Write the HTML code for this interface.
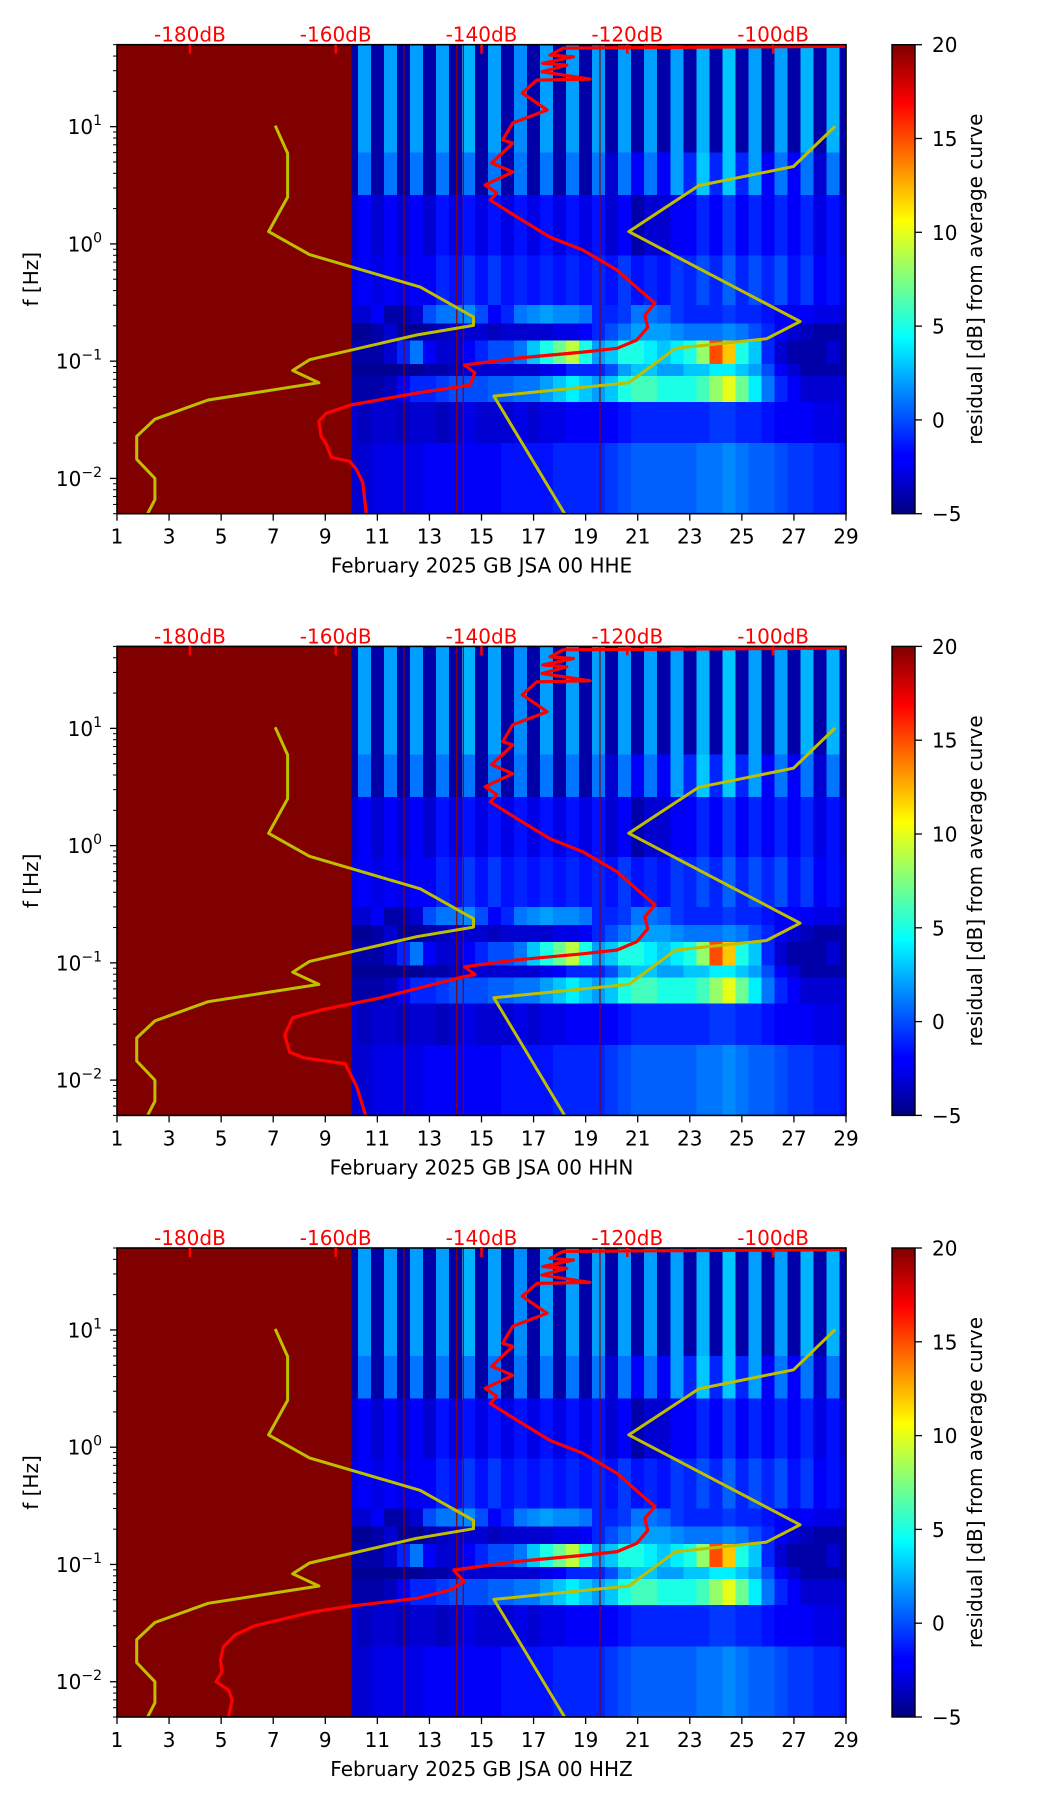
<!DOCTYPE html>
<html><head><meta charset="utf-8"><style>
html,body{margin:0;padding:0;background:#fff;}
svg{display:block;font-family:"DejaVu Sans","Liberation Sans",sans-serif;}
</style></head><body>
<svg id="fig" width="1052" height="1806" viewBox="0 0 1052 1806" xmlns="http://www.w3.org/2000/svg">
<defs>
<linearGradient id="jetgrad" x1="0" y1="1" x2="0" y2="0">
<stop offset="0" stop-color="#00007f"/><stop offset="0.11" stop-color="#0000ff"/><stop offset="0.125" stop-color="#0000ff"/>
<stop offset="0.34" stop-color="#00dbff"/><stop offset="0.375" stop-color="#00ffff"/><stop offset="0.5" stop-color="#7fff7f"/>
<stop offset="0.625" stop-color="#ffff00"/><stop offset="0.66" stop-color="#ffdb00"/><stop offset="0.875" stop-color="#ff0000"/>
<stop offset="0.89" stop-color="#f00000"/><stop offset="1" stop-color="#7f0000"/>
</linearGradient>
</defs>
</svg>
<script>
// ---- data ----
const panelTitles = ["February 2025 GB JSA 00 HHE","February 2025 GB JSA 00 HHN","February 2025 GB JSA 00 HHZ"];
const xTickDays = [1,3,5,7,9,11,13,15,17,19,21,23,25,27,29];
const dbTicks = [-180,-160,-140,-120,-100];
const cbTicks = [20,15,10,5,0,-5];
const colEdges = [10,10.25,10.75,11.25,11.75,12.25,12.75,13.25,13.75,14.25,14.75,15.25,15.75,16.25,16.75,17.25,17.75,18.25,18.75,19.25,19.75,20.25,20.75,21.25,21.75,22.25,22.75,23.25,23.75,24.25,24.75,25.25,25.75,26.25,26.75,27.25,27.75,28.25,28.75,29];
const bandEdges = [50,6,2.6,0.8,0.3,0.21,0.15,0.095,0.075,0.045,0.02,0.005];
const band0 = [-4,2,-4,2,-4,2,-4,2,-4,2.5,-4,2,-4,1.5,-4,2,-4,2,-4,2,-4,2,-4,2,-4,2,-4,2.5,-4,3,-4,2,-4,2,-4,2.5,-4,2.5,-4];
const band1 = [-4,1,-4,1,-4,1,-4,1,-4,1,-4,1,-4,1,-4,1,-4,1,-4,1,-3,1,-2,1,-2,2,-1,3,-1,3,-1,2,-2,1,-2,1,-3,1,-4];
const band2 = [-3,-2,-3,-2,-3,-2,-3,-1.5,-2.5,-1.5,-2.5,-1.5,-2.5,-1.5,-2.5,-1.5,-2.5,-1.5,-2.5,-1.5,-3,-2,-4,-3,-3,-2,-2,-1,-2,-0.5,-2,-1,-2,-1,-2,-1,-2.5,-1.5,-3];
const band3 = [-2.5,-2,-2.5,-2,-2.5,-2,-2,-1,-1.5,-0.5,-1.5,-0.5,-1.5,-1,-1.5,-1,-1.5,-1,-1.5,-1,-1.5,-0.5,-1.5,-1,-1.5,-0.5,-1,0,-1,0.5,-1,0,-1,0,-1.5,-0.5,-2,-1.5,-2.5];
const band4 = [-3,-3,-2,-4,-4,-3,0,1,1,1.5,0,-2,-1,1,1.5,2,1.5,1.5,1,-1,-1,-0.5,1,1,0.5,-0.5,-1,-1,-1,-0.5,-1,-1,-1.5,-2,-2,-2,-2.5,-2.5,-3];
const band5 = [-4.5,-4.5,-4,-3,-4.5,-4.5,-4,-3.5,-3,-3,-3,-3.5,-3,-3,-3,-3,-2.5,-2.5,-2,-1,0,1,2,2,2,1.5,1,1,1,1.5,1,0,-1,-2,-3,-3.5,-4,-4,-4];
const band6 = [-4,-4,-4,-3,-1,1,-2,-3,-3,-2,-1,0,0,1,3,5,7,9,5,2,3,5,5,4,3,4,5,8,15,12,5,3,-1,-3,-4,-4,-4,-3,-4];
const band7 = [-4.5,-4.5,-4.5,-4.5,-4.5,-4.5,-4,-4,-3.5,-3,-3,-3,-3,-3,-3,-2.5,-2,-1,-1,-1,0,2,3,3,2,2,3,3,4,4,3,2,0,-2,-3,-4,-4,-4,-4];
const band8 = [-4,-4,-4,-3.5,-2,-1,-1,-0.5,0,0,0,0.5,0.5,1,1,2,3,4,3,2,3,5,6,6,5,5,5,6,8,10,7,4,1,-1,-2,-3,-3,-3,-3];
const band9 = [-3,-3.5,-3,-3,-3.5,-3,-3,-3.5,-3,-2.5,-3,-3,-3,-2.5,-3,-2.5,-2.5,-2,-2,-2,-2,-1.5,-1,-1,-1,-1,-1,-1,-0.5,-0.5,-1,-1,-1.5,-2,-2,-2,-2.5,-2.5,-3];
const band10 = [-3,-3,-2.5,-2.5,-2.5,-2.5,-2,-2,-2,-2,-2,-2,-1.5,-1.5,-1.5,-1.5,-1,-1,-1,-1,-0.5,0,0.5,0.5,0.5,0.5,0.5,1,1,1.5,1,0.5,0.5,0,-0.5,-0.5,-1,-1,-1.5];
const noDataStart = 1, noDataEnd = 10, noDataValue = 20;
const gapLineDays = [12.02,14.05,14.3,19.55];
// red curve (dB, log10 Hz)
const redTopDb = [-90,-128.8,-130.6,-127.4,-131.6,-128.3,-131.7,-125.1,-132.4,-134.4,-131.0,-135.7,-137.1,-135.7,-138.6,-135.7,-139.5,-137.9,-138.8,-135.1,-130.6,-126.1,-121.4,-118.3,-116.2,-117.6,-117.2,-118.7,-121.4,-126.1,-135.1];
const redTopLogF = [1.685,1.67,1.61,1.596,1.54,1.525,1.468,1.406,1.397,1.287,1.142,1.031,0.886,0.86,0.69,0.613,0.502,0.434,0.374,0.229,0.058,-0.052,-0.223,-0.394,-0.505,-0.607,-0.71,-0.82,-0.89,-0.923,-0.974];
const redLowDb1 = [-142.3,-140.9,-141.6,-148.8,-158.0,-161.3,-162.3,-162.0,-161.3,-160.6,-158.1,-157.2,-156.3,-155.8];
const redLowLogF1 = [-1.034,-1.10,-1.205,-1.272,-1.375,-1.445,-1.511,-1.641,-1.707,-1.82,-1.854,-1.919,-2.033,-2.301];
const redLowDb2 = [-142.3,-140.9,-142.9,-154.0,-161.9,-165.9,-167.0,-166.3,-164.2,-158.7,-157.1,-155.9];
const redLowLogF2 = [-1.034,-1.10,-1.125,-1.301,-1.40,-1.468,-1.615,-1.763,-1.812,-1.86,-2.057,-2.301];
const redLowDb3 = [-143.8,-142.4,-144.3,-148.8,-157.8,-163.0,-171.2,-173.8,-175.4,-175.8,-175.6,-176.4,-174.7,-174.2,-174.7];
const redLowLogF3 = [-1.047,-1.147,-1.218,-1.289,-1.354,-1.403,-1.525,-1.602,-1.702,-1.815,-1.915,-2.0,-2.071,-2.156,-2.301];
// yellow model curves
const lowModelDb = [-168.3,-166.6,-166.6,-169.2,-163.6,-148.4,-141.1,-141.1,-148.9,-163.6,-165.9,-162.3,-177.5,-184.8,-187.3,-187.3,-184.8,-184.8,-185.8];
const lowModelLogF = [1.009,0.774,0.399,0.105,-0.091,-0.368,-0.623,-0.695,-0.777,-0.988,-1.08,-1.184,-1.331,-1.495,-1.641,-1.837,-2.0,-2.18,-2.301];
const highModelDb = [-91.5,-97.2,-110.2,-119.8,-96.3,-100.9,-113.4,-119.8,-138.3,-128.6];
const highModelLogF = [1.003,0.66,0.497,0.105,-0.662,-0.809,-0.891,-1.184,-1.298,-2.301];

// ---- layout ----
const NS = "http://www.w3.org/2000/svg";
const svg = document.getElementById('fig');
const X0 = 117, X1 = 846, PH = 469, CBX = 892, CBW = 23;
const panelTops = [44.7, 646.4, 1248];
const vmin = -5, vmax = 20;
const LOGTOP = Math.log10(50), LOGBOT = Math.log10(0.005);
function xDay(d){ return X0 + (d - 1) * (X1 - X0) / 28; }
function xDb(db){ return X0 + (db + 190) * (X1 - X0) / 100; }
function yLog(lf, top){ return top + (LOGTOP - lf) * PH / (LOGTOP - LOGBOT); }
function yF(f, top){ return yLog(Math.log10(f), top); }
function jet(v){
  let t = Math.max(0, Math.min(1, (v - vmin) / (vmax - vmin)));
  const c = x => Math.round(255 * Math.max(0, Math.min(1, x)));
  return `rgb(${c(1.5-Math.abs(4*t-3))},${c(1.5-Math.abs(4*t-2))},${c(1.5-Math.abs(4*t-1))})`;
}
function el(tag, attrs, parent){
  const e = document.createElementNS(NS, tag);
  for (const k in attrs) e.setAttribute(k, attrs[k]);
  (parent || svg).appendChild(e);
  return e;
}
const bands = [band0,band1,band2,band3,band4,band5,band6,band7,band8,band9,band10];

panelTops.forEach((top, p) => {
  const g = el('g', {});
  
  
  const cp = el('clipPath', {id: 'clip' + p}, g);
  el('rect', {x: X0, y: top, width: X1 - X0, height: PH}, cp);

  // heatmap
  const hm = el('g', {'shape-rendering': 'crispEdges'}, g);
  
  
  const nd = el('rect', {x: xDay(noDataStart), y: top, width: xDay(noDataEnd) - xDay(noDataStart), height: PH, fill: jet(noDataValue)}, hm);
  
  
  bands.forEach((vals, b) => {
    const y0 = yF(bandEdges[b], top), y1 = yF(bandEdges[b+1], top);
    vals.forEach((v, i) => {
      const xa = xDay(colEdges[i]), xb = xDay(colEdges[i+1]);
      const r = el('rect', {x: xa, y: y0, width: xb - xa + 0.5, height: y1 - y0 + 0.5, fill: jet(v)}, hm);
      
      
    });
  });
  gapLineDays.forEach(d => {
    const l = el('line', {x1: xDay(d), x2: xDay(d), y1: top, y2: top + PH, stroke: '#8b0000', 'stroke-width': 1.2}, g);
    
    
  });

  // curves
  const cg = el('g', {'clip-path': `url(#clip${p})`, fill: 'none', 'stroke-linejoin': 'round'}, g);
  function poly(dbs, lfs, color, w, name){
    const pts = dbs.map((d, i) => xDb(d).toFixed(1) + ',' + yLog(lfs[i], top).toFixed(1)).join(' ');
    const pl = el('polyline', {points: pts, stroke: color, 'stroke-width': w}, cg);
    
    
  }
  poly(lowModelDb, lowModelLogF, '#bfbf00', 3, 'low-noise-model');
  poly(highModelDb, highModelLogF, '#bfbf00', 3, 'high-noise-model');
  const lowDb = [redLowDb1, redLowDb2, redLowDb3][p], lowLf = [redLowLogF1, redLowLogF2, redLowLogF3][p];
  poly(redTopDb.concat(lowDb), redTopLogF.concat(lowLf), '#ff0000', 3.2, 'median-psd-curve');

  // frame
  const fr = el('rect', {x: X0, y: top, width: X1 - X0, height: PH, fill: 'none', stroke: '#000', 'stroke-width': 1.6}, g);
  
  

  // x ticks
  xTickDays.forEach(d => {
    const x = xDay(d);
    el('line', {x1: x, x2: x, y1: top + PH, y2: top + PH + 7, stroke: '#000', 'stroke-width': 1.3}, g);
    const t = el('text', {x: x, y: top + PH + 30, 'text-anchor': 'middle', 'font-size': 20, fill: '#000'}, g);
    t.textContent = d;
    
    
  });
  const xl = el('text', {x: (X0 + X1) / 2, y: top + PH + 59, 'text-anchor': 'middle', 'font-size': 20, fill: '#000'}, g);
  xl.textContent = panelTitles[p];
  
  

  // y ticks (log)
  for (let e = -3; e <= 1; e++) {
    for (let m = 1; m <= 9; m++) {
      const f = m * Math.pow(10, e);
      if (f < 0.005 - 1e-9 || f > 50 + 1e-9) continue;
      const y = yF(f, top);
      el('line', {x1: X0, x2: X0 - (m === 1 ? 7 : 4), y1: y, y2: y, stroke: '#000', 'stroke-width': m === 1 ? 1.3 : 1}, g);
      if (m === 1) {
        const t = el('text', {x: 102, y: y + 7.5, 'text-anchor': 'end', 'font-size': 20, fill: '#000'}, g);
        
        
        const a = el('tspan', {}, t); a.textContent = '10';
        const s = el('tspan', {dy: -9, 'font-size': 14}, t); s.textContent = e < 0 ? '\u2212' + (-e) : String(e);
      }
    }
  }
  const yl = el('text', {x: 0, y: 0, transform: `translate(38,${top + PH / 2}) rotate(-90)`, 'text-anchor': 'middle', 'font-size': 20, fill: '#000'}, g);
  yl.textContent = 'f [Hz]';
  
  

  // top dB axis
  dbTicks.forEach(db => {
    const x = xDb(db);
    el('line', {x1: x, x2: x, y1: top, y2: top + 9, stroke: '#ff0000', 'stroke-width': 2.5}, g);
    const t = el('text', {x: x, y: top - 3, 'text-anchor': 'middle', 'font-size': 20, fill: '#ff0000'}, g);
    t.textContent = db + 'dB';
    
    
  });

  // colorbar
  const cb = el('rect', {x: CBX, y: top, width: CBW, height: PH, fill: 'url(#jetgrad)', stroke: '#000', 'stroke-width': 1.4}, g);
  
  
  cbTicks.forEach(v => {
    const y = top + (vmax - v) / (vmax - vmin) * PH;
    el('line', {x1: CBX + CBW, x2: CBX + CBW + 7, y1: y, y2: y, stroke: '#000', 'stroke-width': 1.3}, g);
    const t = el('text', {x: CBX + CBW + 17, y: y + 7.5, 'font-size': 20, fill: '#000'}, g);
    t.textContent = v < 0 ? '\u2212' + (-v) : String(v);
    
    
  });
  const cl = el('text', {x: 0, y: 0, transform: `translate(982,${top + PH / 2}) rotate(-90)`, 'text-anchor': 'middle', 'font-size': 20, fill: '#000'}, g);
  cl.textContent = 'residual [dB] from average curve';
  
  
});
</script>
</body></html>
